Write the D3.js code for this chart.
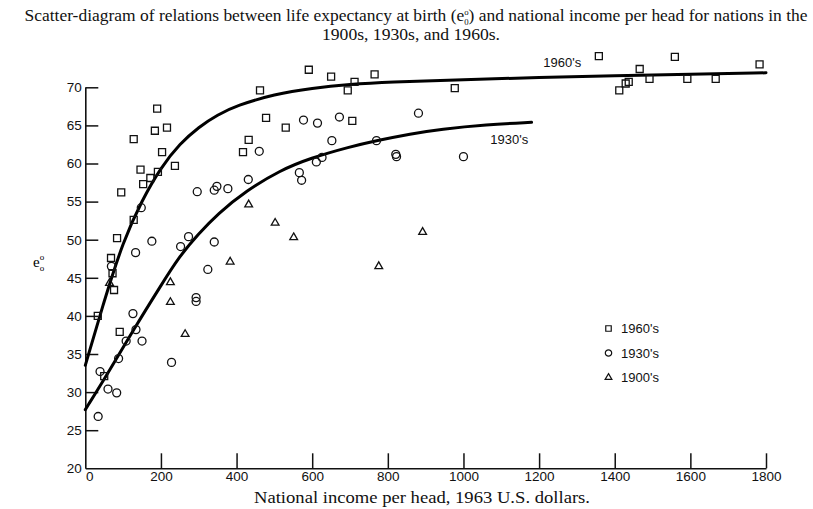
<!DOCTYPE html>
<html><head><meta charset="utf-8">
<script src="https://cdn.jsdelivr.net/npm/d3@7"></script>
<style>
body{margin:0;background:#fff;}
svg{display:block;}
</style></head>
<body>
<svg id="chart" width="813" height="509"></svg>
<script>
// ---- data ----
const xTicks = [0,200,400,600,800,1000,1200,1400,1600,1800];
const yTicks = [20,25,30,35,40,45,50,55,60,65,70];
const seriesNames = ["1960's","1930's","1900's"];

const points1960 = [
 [33,40.0],[50,32.1],[68,47.6],[72,45.6],[76,43.4],[84,50.2],[91,37.9],[95,56.2],
 [128,52.6],[128,63.2],[146,59.2],[153,57.3],[172,58.1],[184,64.3],[190,67.2],
 [192,58.9],[203,61.5],[216,64.7],[237,59.7],[417,61.5],[432,63.1],[462,69.6],
 [478,66.0],[530,64.7],[591,72.3],[650,71.4],[694,69.6],[706,65.6],[712,70.7],
 [765,71.7],[977,69.9],[1358,74.1],[1412,69.6],[1429,70.5],[1437,70.7],[1466,72.4],
 [1492,71.1],[1559,74.0],[1592,71.1],[1667,71.1],[1783,73.0]
];
const points1930 = [
 [34,26.8],[39,32.7],[60,30.4],[69,46.5],[83,29.9],[88,34.4],[108,36.7],[126,40.3],
 [133,48.3],[134,38.2],[148,54.2],[150,36.7],[176,49.8],[228,33.9],[252,49.1],
 [273,50.4],[293,42.4],[293,41.9],[296,56.3],[324,46.1],[341,49.7],[341,56.5],
 [348,57.0],[377,56.7],[431,57.9],[460,61.6],[566,58.8],[572,57.8],[577,65.7],
 [611,60.2],[614,65.3],[626,60.8],[652,63.0],[672,66.1],[770,63.0],[821,61.2],
 [823,60.9],[881,66.6],[1000,60.9]
];
const points1900 = [
 [64,44.3],[225,44.4],[225,41.8],[264,37.6],[383,47.1],[432,54.6],[502,52.2],
 [551,50.3],[776,46.5],[892,51.0]
];
// fitted curves as drawn
const curve1960 = [
 [0,33.5],[50,42.0],[100,49.8],[150,55.2],[200,59.5],[250,62.6],[300,64.8],[350,66.4],
 [400,67.6],[500,69.1],[600,69.9],[700,70.4],[800,70.7],[1000,71.0],[1200,71.3],
 [1400,71.5],[1600,71.7],[1800,71.9]
];
const curve1930 = [
 [0,27.7],[60,32.5],[130,38.4],[200,44.0],[250,47.9],[300,50.8],[350,53.4],[425,56.4],
 [515,59.1],[595,60.7],[700,62.2],[770,63.0],[860,63.9],[940,64.5],[1060,65.1],[1180,65.4]
];
const curveLabels = [["1960's",1211,72.7],["1930's",1071,62.6]];

// ---- drawing ----
const svg = d3.select("#chart");
const x = d3.scaleLinear().domain([0,1800]).range([85.3,766]);
const y = d3.scaleLinear().domain([20,70]).range([468.3,87.3]);

const serif = "'Liberation Serif','Times New Roman',serif";
const sans = "'Liberation Sans',Arial,sans-serif";

// title
const t1 = svg.append("text").attr("x",416).attr("y",21).attr("text-anchor","middle")
  .attr("font-family",serif).attr("font-size",16).attr("fill","#111")
  .attr("textLength",783).attr("lengthAdjust","spacingAndGlyphs");
t1.append("tspan").text("Scatter-diagram of relations between life expectancy at birth (e");
t1.append("tspan").attr("font-size",8).attr("dy",-6).text("o");
t1.append("tspan").attr("font-size",8).attr("dx",-4).attr("dy",10).text("0");
t1.append("tspan").attr("dy",-4).text(") and national income per head for nations in the");
svg.append("text").attr("x",411).attr("y",40).attr("text-anchor","middle")
  .attr("font-family",serif).attr("font-size",16).attr("fill","#111")
  .attr("textLength",178).attr("lengthAdjust","spacingAndGlyphs").text("1900s, 1930s, and 1960s.");

// axes
const xAxis = d3.axisBottom(x).tickValues(xTicks).tickFormat(d3.format("d"))
  .tickSize(-15).tickPadding(3).tickSizeOuter(0);
const gx = svg.append("g").attr("transform",`translate(0,${y(20)})`).call(xAxis);
const yAxis = d3.axisLeft(y).tickValues(yTicks).tickFormat(d3.format("d"))
  .tickSize(-13).tickPadding(3.5).tickSizeOuter(0);
const gy = svg.append("g").attr("transform",`translate(${x(0)},0)`).call(yAxis);
[gx,gy].forEach(g=>{
  g.select(".domain").attr("stroke","#111").attr("stroke-width",1.6);
  g.selectAll(".tick line").attr("stroke","#111").attr("stroke-width",1.5);
  g.selectAll(".tick text").attr("font-family",sans).attr("font-size",13.5).attr("fill","#111");
});
gy.selectAll(".tick").filter(d=>d===20).select("line").remove();
gx.selectAll(".tick").filter(d=>d===0).select("line").remove();
gx.selectAll(".tick").filter(d=>d===0).select("text").attr("x",4);

// axis titles
svg.append("text").attr("x",422).attr("y",503).attr("text-anchor","middle")
  .attr("font-family",serif).attr("font-size",17).attr("fill","#111")
  .attr("textLength",336).attr("lengthAdjust","spacingAndGlyphs")
  .text("National income per head, 1963 U.S. dollars.");
const yl = svg.append("text").attr("x",33).attr("y",267).attr("font-family",serif).attr("font-size",15);
yl.append("tspan").text("e");
yl.append("tspan").attr("font-size",9).attr("dy",-7).text("o");
yl.append("tspan").attr("font-size",9).attr("dx",-4.5).attr("dy",11).text("o");

// curves
const line = d3.line().x(d=>x(d[0])).y(d=>y(d[1])).curve(d3.curveBasis);
[curve1960,curve1930].forEach(c=>{
  svg.append("path").datum(c).attr("d",line).attr("fill","none")
    .attr("stroke","#000").attr("stroke-width",3).attr("stroke-linecap","round");
});
curveLabels.forEach(l=>{
  svg.append("text").attr("x",x(l[1])).attr("y",y(l[2])).attr("font-family",sans)
    .attr("font-size",13).attr("fill","#111").text(l[0]);
});

// points
const sym = [d3.symbolSquare,d3.symbolCircle,d3.symbolTriangle];
const sizes = [49,50,26];
[points1960,points1930,points1900].forEach((pts,i)=>{
  svg.append("g").selectAll("path").data(pts).join("path")
    .attr("d",d3.symbol().type(sym[i]).size(sizes[i]))
    .attr("transform",d=>`translate(${x(d[0])},${y(d[1])})`)
    .attr("fill","none").attr("stroke","#111").attr("stroke-width",1.3);
});

// legend
const lsizes = [30,32,20];
seriesNames.forEach((n,i)=>{
  const yy = 328.5 + i*24.5;
  svg.append("path").attr("d",d3.symbol().type(sym[i]).size(lsizes[i]))
    .attr("transform",`translate(608.5,${yy})`).attr("fill","none").attr("stroke","#111").attr("stroke-width",1.2);
  svg.append("text").attr("x",621).attr("y",yy+4.5).attr("font-family",sans)
    .attr("font-size",13).attr("fill","#111").text(n);
});
</script>
</body></html>
